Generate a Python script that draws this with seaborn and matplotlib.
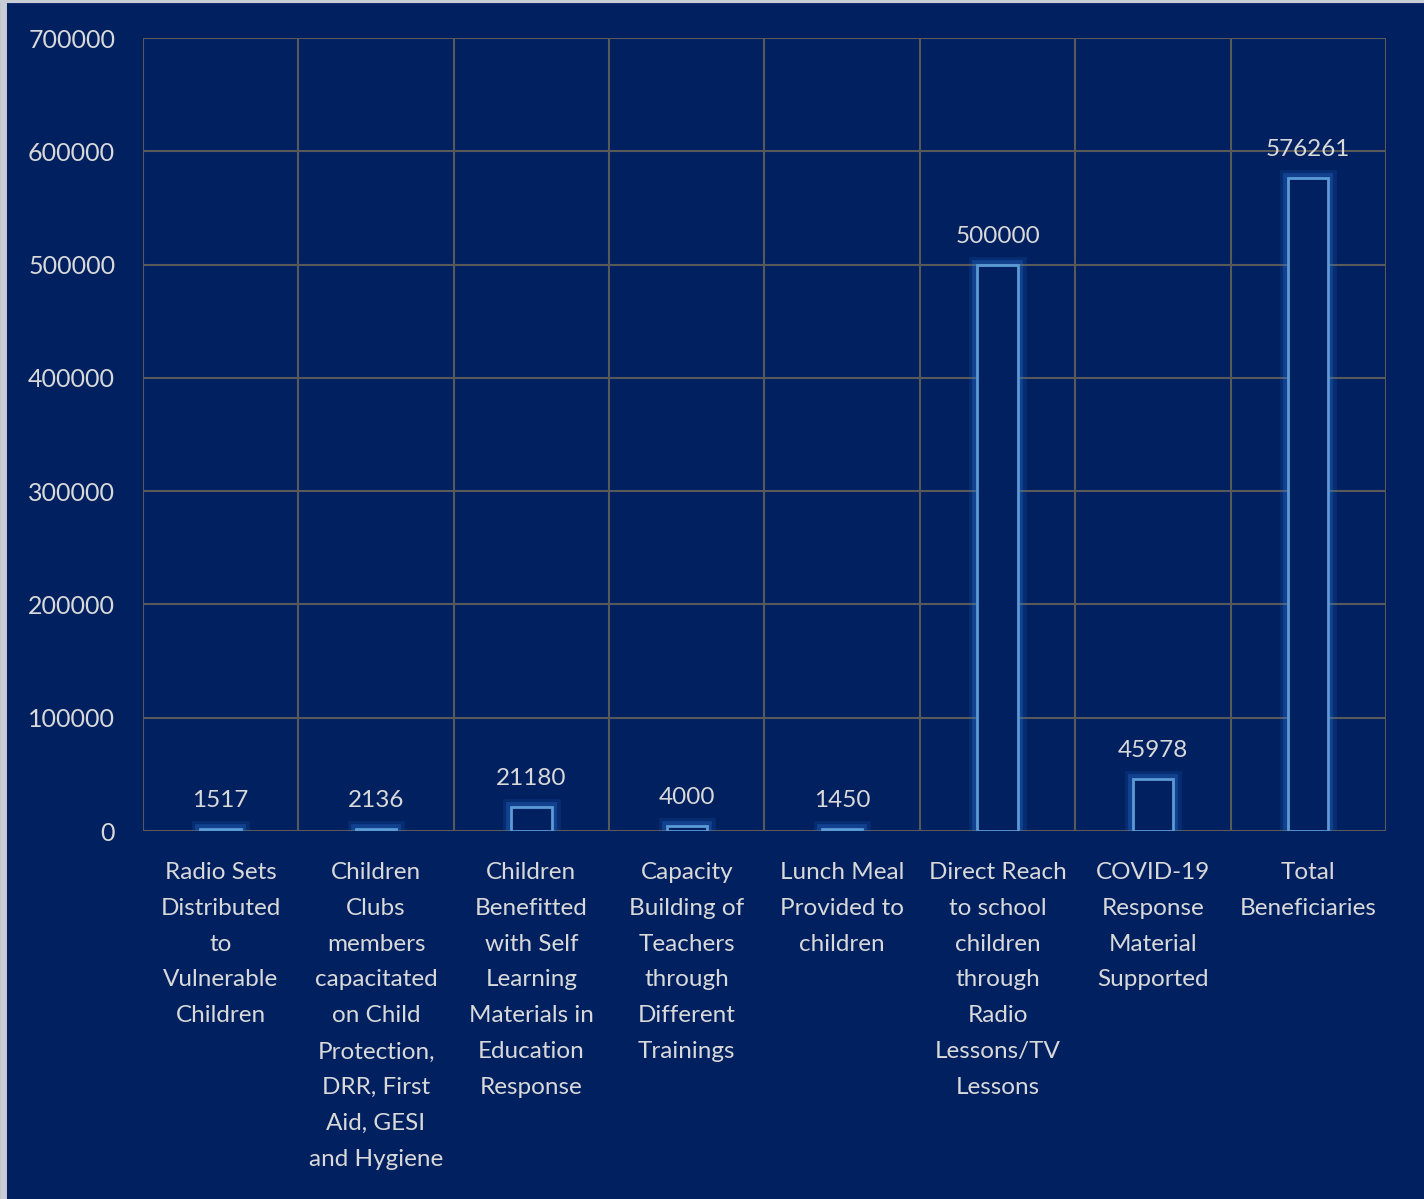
import matplotlib
matplotlib.use("Agg")
import matplotlib.pyplot as plt
import matplotlib.patheffects as pe
import seaborn as sns

# Chart data
categories = [
    "Radio Sets\nDistributed\nto\nVulnerable\nChildren",
    "Children\nClubs\nmembers\ncapacitated\non Child\nProtection,\nDRR, First\nAid, GESI\nand Hygiene",
    "Children\nBenefitted\nwith Self\nLearning\nMaterials in\nEducation\nResponse",
    "Capacity\nBuilding of\nTeachers\nthrough\nDifferent\nTrainings",
    "Lunch Meal\nProvided to\nchildren",
    "Direct Reach\nto school\nchildren\nthrough\nRadio\nLessons/TV\nLessons",
    "COVID-19\nResponse\nMaterial\nSupported",
    "Total\nBeneficiaries",
]
values = [1517, 2136, 21180, 4000, 1450, 500000, 45978, 576261]
y_ticks = [0, 100000, 200000, 300000, 400000, 500000, 600000, 700000]

navy = "#002060"
grid_col = "#595959"
bar_edge = "#5B9BD5"
text_col = "#D9D9D9"

sns.set_theme(style="white")
plt.rcParams['font.family'] = ['Lato', 'DejaVu Sans']

fig = plt.figure(figsize=(14.24, 11.99), dpi=100, facecolor=navy)
ax = fig.add_axes([0.1004, 0.3069, 0.8729, 0.6614])
ax.set_facecolor(navy)

sns.barplot(x=list(range(len(categories))), y=values, color=navy, width=0.26, ax=ax)

for p in ax.patches:
    p.set_facecolor(navy)
    p.set_edgecolor(bar_edge)
    p.set_linewidth(2)
    p.set_path_effects([
        pe.Stroke(linewidth=12, foreground="#2E75D6", alpha=0.15),
        pe.Stroke(linewidth=7, foreground="#2E75D6", alpha=0.3),
        pe.Normal(),
    ])

# value labels
for i, v in enumerate(values):
    ax.annotate(str(v), (i, v), xytext=(0, 13), textcoords="offset points",
                ha="center", va="bottom", color=text_col, fontsize=17.5)

ax.set_xlim(-0.5, len(categories) - 0.5)
ax.set_ylim(0, 700000)
ax.set_yticks(y_ticks)
ax.set_yticklabels([str(t) for t in y_ticks])
ax.set_xticks(range(len(categories)))
ax.set_xticklabels(categories, linespacing=1.88)

# gridlines: horizontal at ticks, vertical between categories
for t in y_ticks:
    ax.axhline(t, color=grid_col, lw=1.5, zorder=0)
for b in range(len(categories) + 1):
    ax.axvline(b - 0.5, color=grid_col, lw=1.5, zorder=0)

for s in ax.spines.values():
    s.set_visible(False)

ax.tick_params(axis="y", length=0, pad=20, labelsize=18, labelcolor=text_col)
ax.tick_params(axis="x", length=0, pad=22, labelsize=17.5, labelcolor=text_col)
ax.set_xlabel("")
ax.set_ylabel("")

# thin light frame on left/top like the source image
fig.add_artist(plt.Line2D([0.002, 0.002], [0, 1], color="#C8CCD4", lw=5, transform=fig.transFigure))
fig.add_artist(plt.Line2D([0, 1], [0.999, 0.999], color="#C8CCD4", lw=3, transform=fig.transFigure))

fig.savefig("out.png", dpi=100, facecolor=navy)
